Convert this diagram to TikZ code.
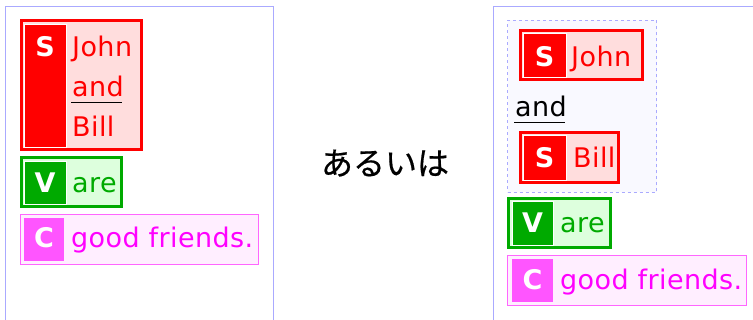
\documentclass[tikz,border=0pt]{standalone}
\usepackage{fontspec}
\setmainfont{DejaVu Sans}
\newfontfamily\wordfont[LetterSpace=1.5]{DejaVu Sans}
\newfontfamily\jpfont[FakeBold=0.6]{Noto Sans CJK JP}
\definecolor{panelc}{HTML}{AAAAFF}
\definecolor{sred}{HTML}{FF0000}
\definecolor{sfill}{HTML}{FFDDDD}
\definecolor{vgreen}{HTML}{00AA00}
\definecolor{vfill}{HTML}{DDFFDD}
\definecolor{cmag}{HTML}{FF55FF}
\definecolor{cline}{HTML}{FF66FF}
\definecolor{ctext}{HTML}{FF00FF}
\definecolor{cfill}{HTML}{FFEEFF}
\definecolor{gfill}{HTML}{F9F9FF}
\begin{document}
\begin{tikzpicture}[x=1pt,y=-1pt,
  box/.style={anchor=north west,inner sep=0,outer sep=0,rectangle},
  sframe/.style={box,draw=sred,line width=3pt,fill=sfill},
  vframe/.style={box,draw=vgreen,line width=3pt,fill=vfill},
  cframe/.style={box,draw=cline,line width=1pt,fill=cfill},
  scol/.style={box,fill=sred,draw=white,line width=0.8pt},
  vcol/.style={box,fill=vgreen,draw=white,line width=0.8pt},
  ccol/.style={box,fill=cmag},
  lbl/.style={anchor=base,inner sep=0,text=white,font=\fontsize{27}{32}\selectfont\bfseries},
  word/.style={anchor=base west,inner sep=0,font=\wordfont\fontsize{27}{32}\selectfont},
  panel/.style={draw=panelc,line width=1pt},
  group/.style={box,draw=panelc,dashed,line width=1pt,fill=gfill},
  uline/.style={draw=black,line width=1pt}
]
\useasboundingbox[fill=white] (0,0) rectangle (753,320);
% panels
\draw[panel] (5.5,320) -- (5.5,6.5) -- (273.5,6.5) -- (273.5,320);
\draw[panel] (493.5,320) -- (493.5,6.5) -- (753,6.5);

% ---------- left panel ----------
\node[sframe,minimum width=120pt,minimum height=129pt] (ls) at (21.5,20.5) {};
\node[scol,minimum width=42pt,minimum height=123pt] (lscol) at (24,24) {};
\node[lbl] (lslbl) at (45,57) {S};
\node[word,text=sred] (ljohn) at (72,57) {John};
\node[word,text=sred] (land) at (72,97) {and};
\node[word,text=sred] (lbill) at (72,137) {Bill};
\coordinate (lu1) at (71,103);
\coordinate (lu2) at (122,103);
\draw[uline] (lu1) -- (lu2);

\node[vframe,minimum width=100pt,minimum height=49pt] (lv) at (21.5,157.5) {};
\node[vcol,minimum width=42pt,minimum height=43pt] (lvcol) at (24,161) {};
\node[lbl] (lvlbl) at (45,193) {V};
\node[word,text=vgreen] (lare) at (72,193) {are};

\node[cframe,minimum width=238pt,minimum height=50pt] (lc) at (20.5,214.5) {};
\node[ccol,minimum width=40pt,minimum height=43pt] (lccol) at (24,218) {};
\node[lbl] (lclbl) at (44,248) {C};
\node[word,text=ctext] (lgood) at (71,248) {good friends.};

% ---------- middle ----------
\node[anchor=base,inner sep=0,font=\jpfont\fontsize{32}{36}\selectfont] (or) at (385,175) {あるいは};

% ---------- right panel ----------
\node[group,minimum width=149pt,minimum height=172pt] (grp) at (507.5,20.5) {};

\node[sframe,minimum width=122pt,minimum height=49pt] (rs1) at (520.5,30.5) {};
\node[scol,minimum width=43pt,minimum height=44pt] (rs1col) at (523,33) {};
\node[lbl] (rs1lbl) at (544.5,67) {S};
\node[word,text=sred] (rjohn) at (571,67) {John};

\node[word,text=black] (rand) at (515,117) {and};
\coordinate (ru1) at (514,123);
\coordinate (ru2) at (565,123);
\draw[uline] (ru1) -- (ru2);

\node[sframe,minimum width=98pt,minimum height=50pt] (rs2) at (520.5,132.5) {};
\node[scol,minimum width=43pt,minimum height=45pt] (rs2col) at (523,135) {};
\node[lbl] (rs2lbl) at (544.5,168) {S};
\node[word,text=sred] (rbill) at (573,168) {Bill};

\node[vframe,minimum width=102pt,minimum height=49pt] (rv) at (508.5,198.5) {};
\node[vcol,minimum width=41pt,minimum height=44pt] (rvcol) at (512,201) {};
\node[lbl] (rvlbl) at (532.5,233) {V};
\node[word,text=vgreen] (rare) at (560,233) {are};

\node[cframe,minimum width=239pt,minimum height=50pt] (rc) at (507.5,255.5) {};
\node[ccol,minimum width=41pt,minimum height=43pt] (rccol) at (512,259) {};
\node[lbl] (rclbl) at (532.5,290) {C};
\node[word,text=ctext] (rgood) at (560,290) {good friends.};
\end{tikzpicture}
\end{document}
